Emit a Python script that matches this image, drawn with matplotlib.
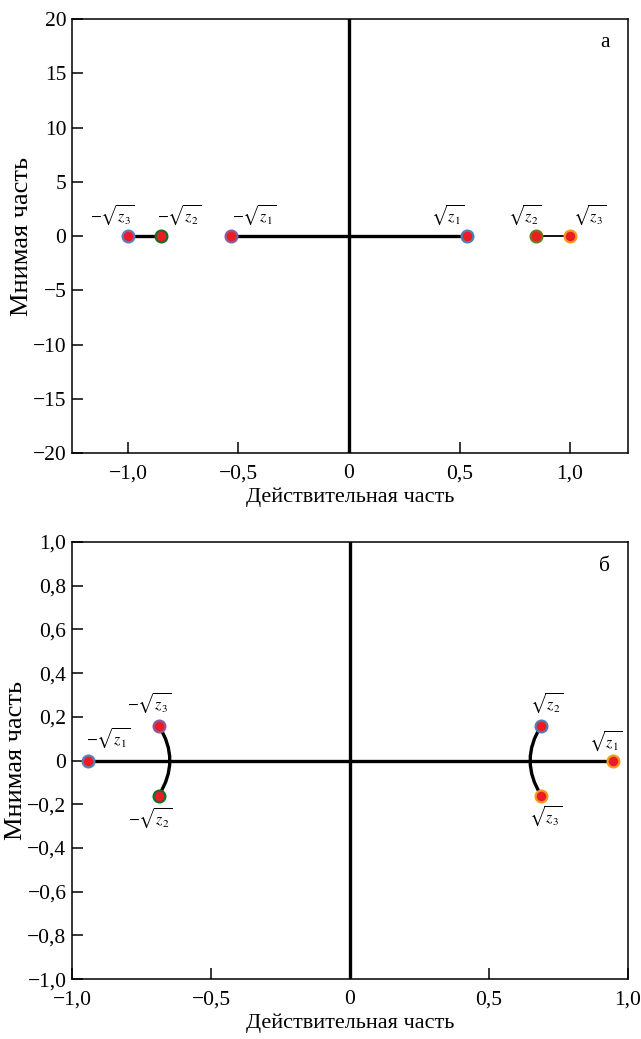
import numpy as np
import matplotlib
matplotlib.use("Agg")
import matplotlib.pyplot as plt
from matplotlib.path import Path
from matplotlib.patches import PathPatch

plt.rcParams['font.family'] = ['Liberation Serif', 'DejaVu Serif']
plt.rcParams['mathtext.fontset'] = 'stix'

# --- panel a: roots on the real axis ---
a_x = [-1.0, -0.85, -0.534, 0.534, 0.846, 1.0]
a_y = [0, 0, 0, 0, 0, 0]
a_labels = [r'$-\sqrt{z_3}$', r'$-\sqrt{z_2}$', r'$-\sqrt{z_1}$',
            r'$\sqrt{z_1}$', r'$\sqrt{z_2}$', r'$\sqrt{z_3}$']
a_edges = ['#5a80b8', '#1d6a2c', '#8c5c9c', '#4f7fb5', '#6f7a1c', '#f59a1e']
a_xticks = [-1.0, -0.5, 0, 0.5, 1.0]
a_xticklabels = ['−1,0', '−0,5', '0', '0,5', '1,0']
a_yticks = [-20, -15, -10, -5, 0, 5, 10, 15, 20]
a_yticklabels = ['−20', '−15', '−10', '−5', '0', '5', '10', '15', '20']

# --- panel b: roots in the complex plane ---
b_x = [-0.942, -0.688, -0.688, 0.688, 0.946, 0.688]
b_y = [0, 0.16, -0.16, 0.16, 0, -0.16]
b_labels = [r'$-\sqrt{z_1}$', r'$-\sqrt{z_3}$', r'$-\sqrt{z_2}$',
            r'$\sqrt{z_2}$', r'$\sqrt{z_1}$', r'$\sqrt{z_3}$']
b_edges = ['#5a80b8', '#8c5c9c', '#1d6a2c', '#4f7fb5', '#f59a1e', '#f59a1e']
arc_left_x = [-0.688, -0.648, -0.688]
arc_right_x = [0.688, 0.648, 0.688]
arc_y = [0.16, 0, -0.16]
b_xticks = [-1.0, -0.5, 0, 0.5, 1.0]
b_xticklabels = ['−1,0', '−0,5', '0', '0,5', '1,0']
b_yticks = [-1.0, -0.8, -0.6, -0.4, -0.2, 0, 0.2, 0.4, 0.6, 0.8, 1.0]
b_yticklabels = ['−1,0', '−0,8', '−0,6', '−0,4', '−0,2', '0',
                 '0,2', '0,4', '0,6', '0,8', '1,0']

fill = '#ec1c24'
fs_tick = 15.5
fs_xlab = 16
fs_ylab = 19
fs_math = 11.5

fig = plt.figure(figsize=(6.41, 10.39), dpi=100)
ax1 = fig.add_axes([0.1123, 0.564, 0.8674, 0.4177])
ax2 = fig.add_axes([0.1123, 0.0577, 0.8674, 0.4206])


def style(ax, xt, xtl, yt, ytl):
    for s in ax.spines.values():
        s.set_linewidth(1.1)
    ax.set_xticks(xt, xtl)
    ax.set_yticks(yt, ytl)
    ax.tick_params(direction='in', length=8, width=1.1, labelsize=fs_tick,
                   top=False, right=False)
    ax.tick_params(axis='x', pad=8)
    ax.tick_params(axis='y', pad=4)
    ax.set_xlabel('Действительная часть', fontsize=fs_xlab, labelpad=3)
    ax.set_ylabel('Мнимая часть', fontsize=fs_ylab, labelpad=0)


# panel a
ax1.set_xlim(-1.253, 1.262)
ax1.set_ylim(-20, 20)
ax1.axvline(0, color='black', lw=2.4, zorder=1)
ax1.plot([a_x[2], a_x[3]], [a_y[2], a_y[3]], color='black', lw=2.4, zorder=1)
ax1.plot([a_x[0], a_x[1]], [a_y[0], a_y[1]], color='black', lw=2.4, zorder=1)
ax1.plot([a_x[4], a_x[5]], [a_y[4], a_y[5]], color='black', lw=1.3, zorder=1)
for x, y, ec in zip(a_x, a_y, a_edges):
    ax1.plot(x, y, 'o', ms=8.5, mfc=fill, mec=ec, mew=1.6, zorder=3)
a_offsets = [(-11.5, 6), (13, 6), (16.5, 6), (-14, 6), (-8, 6), (14, 6)]
for x, y, lab, off in zip(a_x, a_y, a_labels, a_offsets):
    ax1.annotate(lab, (x, y), xytext=off, textcoords='offset points',
                 ha='center', va='bottom', fontsize=fs_math)
ax1.text(0.958, 0.947, 'а', transform=ax1.transAxes, ha='center', va='center',
         fontsize=fs_tick)
style(ax1, a_xticks, a_xticklabels, a_yticks, a_yticklabels)

# panel b
ax2.set_xlim(-1.0, 1.0)
ax2.set_ylim(-1.0, 1.0)
ax2.axvline(0, color='black', lw=2.4, zorder=1)
ax2.plot([b_x[0], b_x[4]], [b_y[0], b_y[4]], color='black', lw=2.4, zorder=1)
for ax_x in (arc_left_x, arc_right_x):
    # quadratic Bezier through the end points, bulging through the middle point
    ctrl = (2 * ax_x[1] - 0.5 * (ax_x[0] + ax_x[2]),
            2 * arc_y[1] - 0.5 * (arc_y[0] + arc_y[2]))
    verts = [(ax_x[0], arc_y[0]), ctrl, (ax_x[2], arc_y[2])]
    path = Path(verts, [Path.MOVETO, Path.CURVE3, Path.CURVE3])
    ax2.add_patch(PathPatch(path, fc='none', ec='black', lw=2.4, zorder=2))
for x, y, ec in zip(b_x, b_y, b_edges):
    ax2.plot(x, y, 'o', ms=8.5, mfc=fill, mec=ec, mew=1.6, zorder=3)
b_offsets = [(14.5, 7), (-7, 7), (-6.5, -8), (4, 7), (-5, 5), (3, -7)]
for x, y, lab, off in zip(b_x, b_y, b_labels, b_offsets):
    ax2.annotate(lab, (x, y), xytext=off, textcoords='offset points',
                 ha='center', va='bottom' if off[1] > 0 else 'top',
                 fontsize=fs_math)
ax2.text(0.958, 0.945, 'б', transform=ax2.transAxes, ha='center', va='center',
         fontsize=fs_tick)
style(ax2, b_xticks, b_xticklabels, b_yticks, b_yticklabels)

fig.savefig('out.png', dpi=100)
